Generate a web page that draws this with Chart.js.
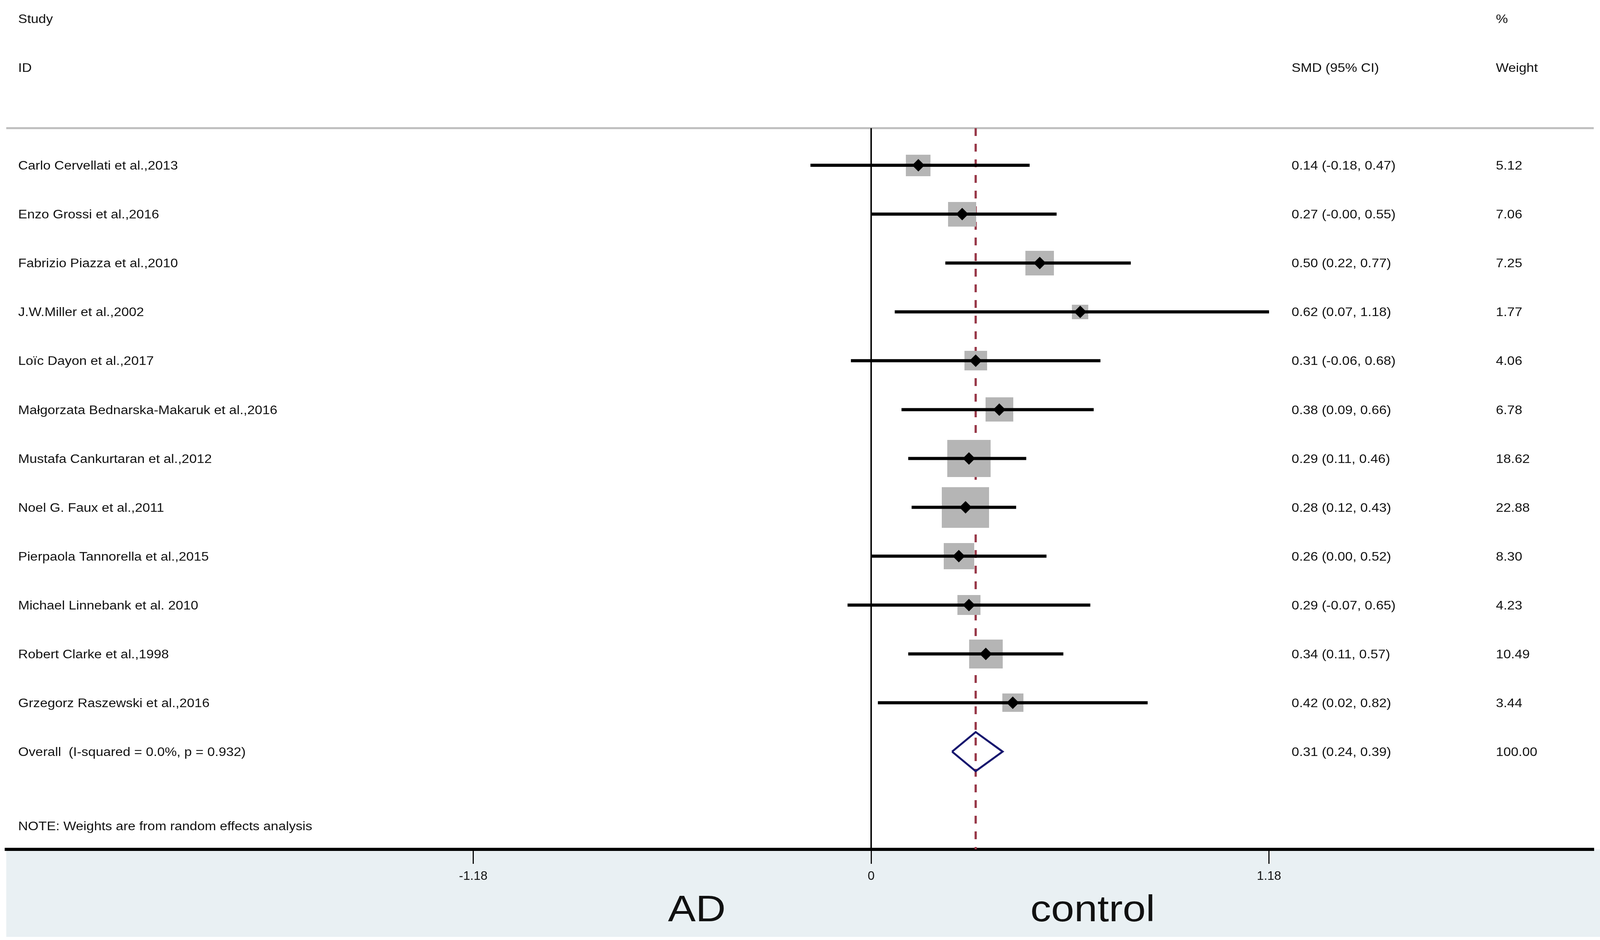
<!DOCTYPE html>
<html>
<head>
<meta charset="utf-8">
<script src="https://cdn.jsdelivr.net/npm/chart.js@4.4.1/dist/chart.umd.min.js"></script>
<style>
html, body { margin: 0; padding: 0; background: #fff; overflow: hidden; }
#wrap { width: 100vw; height: 100vh; position: relative; }
</style>
</head>
<body>
<div id="wrap"><canvas id="forest"></canvas></div>
<script>
"use strict";

// Studies, top to bottom
const studies = [
    "Carlo Cervellati et al.,2013",
    "Enzo Grossi et al.,2016",
    "Fabrizio Piazza et al.,2010",
    "J.W.Miller et al.,2002",
    "Loïc Dayon et al.,2017",
    "Małgorzata Bednarska-Makaruk et al.,2016",
    "Mustafa Cankurtaran et al.,2012",
    "Noel G. Faux et al.,2011",
    "Pierpaola Tannorella et al.,2015",
    "Michael Linnebank et al. 2010",
    "Robert Clarke et al.,1998",
    "Grzegorz Raszewski et al.,2016"
];
const smd = [0.14, 0.27, 0.50, 0.62, 0.31, 0.38, 0.29, 0.28, 0.26, 0.29, 0.34, 0.42];
const ciLow = [-0.18, -0.00, 0.22, 0.07, -0.06, 0.09, 0.11, 0.12, 0.00, -0.07, 0.11, 0.02];
const ciHigh = [0.47, 0.55, 0.77, 1.18, 0.68, 0.66, 0.46, 0.43, 0.52, 0.65, 0.57, 0.82];
const weights = [5.12, 7.06, 7.25, 1.77, 4.06, 6.78, 18.62, 22.88, 8.30, 4.23, 10.49, 3.44];

// Pooled estimate
const overallLabel = "Overall  (I-squared = 0.0%, p = 0.932)";
const overall = [0.31, 0.24, 0.39]; // estimate, low, high
const overallWeight = 100.00;

const xTicks = [-1.18, 0, 1.18];
const noteText = "NOTE: Weights are from random effects analysis";
const sideLabels = ["AD", "control"];

// layout, measured on a 4317 x 2406 picture and scaled to the real window
const KX = window.innerWidth / 4317;
const KY = window.innerHeight / 2406;
const px = v => v * KX;
const py = v => v * KY;

const ROW_TOP = -0.76, ROW_BOTTOM = 14.0;
const SX = 1.18 * KX / KY; // the source picture is stretched sideways
const FONT = "'Liberation Sans', Arial, sans-serif";
const COL_STUDY = 49, COL_CI = 3485, COL_W = 4036;
const DIAMOND_HALF = 0.4;

function fmt(v) {
    return (Object.is(v, -0) ? "-" : "") + v.toFixed(2);
}

// grey square whose size follows the study weight
function boxCanvas(w) {
    const c = document.createElement("canvas");
    c.width = Math.round(px(11.7 + 24.3 * Math.sqrt(w)));
    c.height = Math.round(py(11.2 + 19.4 * Math.sqrt(w)));
    const g = c.getContext("2d");
    g.fillStyle = "#b5b5b5";
    g.fillRect(0, 0, c.width, c.height);
    return c;
}

function putText(ctx, str, x, y, size, align) {
    ctx.save();
    ctx.font = size + "px " + FONT;
    ctx.fillStyle = "#111";
    ctx.textAlign = align || "left";
    ctx.textBaseline = "alphabetic";
    ctx.translate(x, y + size * 0.36);
    ctx.scale(SX, 1);
    ctx.fillText(str, 0, 0);
    ctx.restore();
}

const datasets = [];

// reference lines
datasets.push({
    data: [{ x: 0, y: ROW_TOP }, { x: 0, y: ROW_BOTTOM }],
    showLine: true, borderColor: "#000", borderWidth: px(4), pointRadius: 0, order: 5
});
datasets.push({
    data: [{ x: overall[0], y: ROW_TOP }, { x: overall[0], y: ROW_BOTTOM }],
    showLine: true, borderColor: "#983848", borderWidth: px(6), borderDash: [py(20), py(20)],
    pointRadius: 0, order: 5
});

// weight boxes
datasets.push({
    data: smd.map((v, i) => ({ x: v, y: i })),
    pointStyle: weights.map(boxCanvas),
    pointRadius: 1, order: 4
});

// confidence intervals
studies.forEach((s, i) => {
    datasets.push({
        data: [{ x: ciLow[i], y: i }, { x: ciHigh[i], y: i }],
        showLine: true, borderColor: "#000", borderWidth: py(8), pointRadius: 0, order: 3
    });
});

// point estimates
datasets.push({
    data: smd.map((v, i) => ({ x: v, y: i })),
    pointStyle: "rectRot", pointRadius: py(16), pointBackgroundColor: "#000",
    pointBorderWidth: 0, order: 1
});

// pooled diamond
const oy = studies.length;
datasets.push({
    data: [
        { x: overall[1], y: oy },
        { x: overall[0], y: oy - DIAMOND_HALF },
        { x: overall[2], y: oy },
        { x: overall[0], y: oy + DIAMOND_HALF },
        { x: overall[1], y: oy }
    ],
    showLine: true, borderColor: "#16166e", borderWidth: py(5), pointRadius: 0,
    borderJoinStyle: "miter", order: 1
});

const panelPlugin = {
    id: "panel",
    beforeDraw(chart) {
        const { ctx, chartArea, width, height } = chart;
        ctx.save();
        ctx.fillStyle = "#fff";
        ctx.fillRect(0, 0, width, height);
        ctx.fillStyle = "#e9f0f3";
        ctx.fillRect(chartArea.left, chartArea.bottom, width - chartArea.left, height - chartArea.bottom - py(8));
        ctx.restore();
    },
    beforeDatasetsDraw(chart) {
        const { ctx, chartArea } = chart;
        ctx.save();
        ctx.strokeStyle = "#bdbdbd";
        ctx.lineWidth = py(5);
        ctx.beginPath();
        ctx.moveTo(chartArea.left, chartArea.top);
        ctx.lineTo(chartArea.right, chartArea.top);
        ctx.stroke();
        ctx.restore();
    }
};

const textPlugin = {
    id: "tableText",
    afterDraw(chart) {
        const ctx = chart.ctx;
        const ys = chart.scales.y, xs = chart.scales.x;
        const row = r => ys.getPixelForValue(r);
        const fs = py(31);

        putText(ctx, "Study", px(COL_STUDY), row(-3), fs);
        putText(ctx, "ID", px(COL_STUDY), row(-2), fs);
        putText(ctx, "SMD (95% CI)", px(COL_CI), row(-2), fs);
        putText(ctx, "%", px(COL_W), row(-3), fs);
        putText(ctx, "Weight", px(COL_W), row(-2), fs);

        studies.forEach((s, i) => {
            putText(ctx, s, px(COL_STUDY), row(i), fs);
            putText(ctx, fmt(smd[i]) + " (" + fmt(ciLow[i]) + ", " + fmt(ciHigh[i]) + ")", px(COL_CI), row(i), fs);
            putText(ctx, weights[i].toFixed(2), px(COL_W), row(i), fs);
        });

        putText(ctx, overallLabel, px(COL_STUDY), row(oy), fs);
        putText(ctx, fmt(overall[0]) + " (" + fmt(overall[1]) + ", " + fmt(overall[2]) + ")", px(COL_CI), row(oy), fs);
        putText(ctx, overallWeight.toFixed(2), px(COL_W), row(oy), fs);

        putText(ctx, noteText, px(COL_STUDY), row(13.52), fs);

        const by = chart.chartArea.bottom + py(150);
        putText(ctx, sideLabels[0], xs.getPixelForValue(-0.517), by, py(95), "center");
        putText(ctx, sideLabels[1], xs.getPixelForValue(0.657), by, py(95), "center");
    }
};

new Chart(document.getElementById("forest").getContext("2d"), {
    type: "scatter",
    data: { datasets: datasets },
    options: {
        responsive: true,
        maintainAspectRatio: false,
        animation: false,
        events: [],
        layout: { padding: { top: py(328), left: px(6), right: 0, bottom: 0 } },
        scales: {
            x: {
                type: "linear",
                min: -2.565,
                max: 2.143,
                afterBuildTicks: function (scale) {
                    scale.ticks = xTicks.map(v => ({ value: v }));
                },
                afterFit: function (scale) {
                    scale.height = py(232);
                },
                border: { display: true, color: "#000", width: py(8) },
                grid: {
                    drawOnChartArea: false,
                    drawTicks: true,
                    tickLength: py(37),
                    tickWidth: px(3),
                    tickColor: "#000"
                },
                ticks: {
                    padding: py(13),
                    color: "#111",
                    autoSkip: false,
                    maxRotation: 0,
                    font: { family: FONT, size: py(32) },
                    callback: function (value) {
                        return String(value);
                    }
                }
            },
            y: {
                type: "linear",
                reverse: true,
                min: ROW_TOP,
                max: ROW_BOTTOM,
                display: false
            }
        },
        plugins: {
            legend: { display: false },
            tooltip: { enabled: false }
        }
    },
    plugins: [panelPlugin, textPlugin]
});
</script>
</body>
</html>
